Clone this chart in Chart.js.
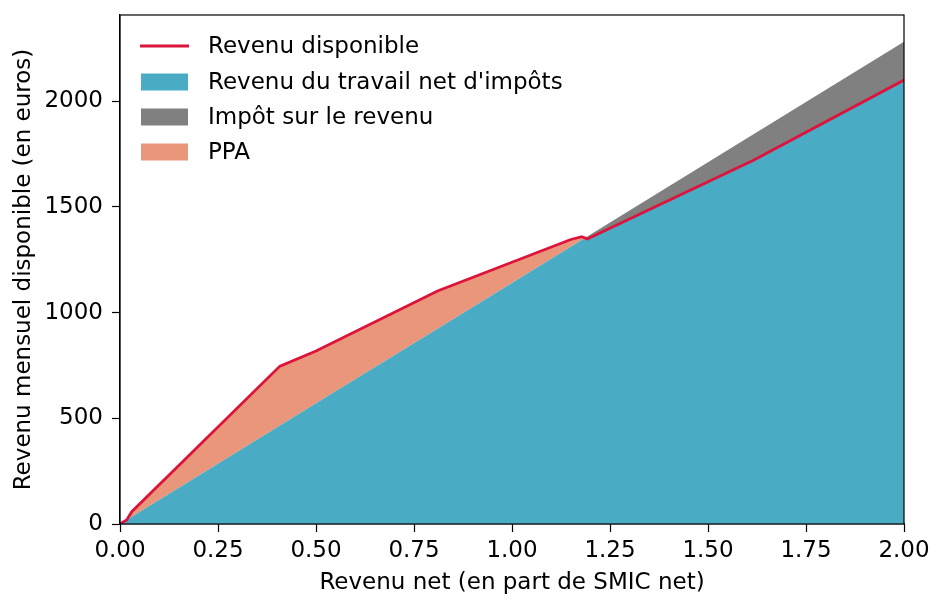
<!DOCTYPE html>
<html>
<head>
<meta charset="utf-8">
<script src="https://cdn.jsdelivr.net/npm/chart.js@4/dist/chart.umd.min.js"></script>
<style>
  html, body { margin: 0; padding: 0; background: #ffffff; }
  #wrap { width: 932px; height: 594px; }
</style>
</head>
<body>
<div id="wrap"><canvas id="c" width="932" height="594"></canvas></div>
<script>
// Revenu net en part de SMIC net (x)
const smicShare = [0, 0.017, 0.03, 0.408, 0.5, 0.81, 1.15, 1.178, 1.192, 1.616, 2.0];
// Revenu disponible (euros / mois)
const revenuDisponible = [0, 19, 58, 747, 818, 1102, 1346, 1359, 1348, 1721, 2100];
// Revenu du travail net d'impôts
const revenuTravailNet = [0, 19, 34, 466, 571, 924, 1312, 1344, 1348, 1721, 2100];
// Impôt sur le revenu
const impotRevenu = [0, 0, 0, 0, 0, 0, 0, 0, 12, 123, 182];
// PPA
const ppa = [0, 0, 24, 281, 247, 178, 34, 15, 0, 0, 0];

const xTicks = [0, 0.25, 0.5, 0.75, 1.0, 1.25, 1.5, 1.75, 2.0];
const yTicks = [0, 500, 1000, 1500, 2000];

const labels = ["Revenu disponible", "Revenu du travail net d'impôts", "Impôt sur le revenu", "PPA"];
const colors = { red: '#dc143c', blue: '#4aabc5', gray: '#808080', salmon: '#e9967a' };

const pts = arr => smicShare.map((x, i) => ({ x: x, y: arr[i] }));
const FONT = "'DejaVu Sans', sans-serif";
const FS = 23;

const framePlugin = {
  id: 'frame',
  afterDraw(chart) {
    const { ctx, chartArea: a } = chart;
    ctx.save();
    ctx.strokeStyle = '#000';
    ctx.lineWidth = 1.2;
    ctx.strokeRect(a.left, a.top, a.right - a.left, a.bottom - a.top);
    // legend inside plot
    const rows = [46, 82, 117, 152];
    const ds = chart.data.datasets;
    ctx.font = FS + 'px ' + FONT;
    ctx.textBaseline = 'middle';
    ctx.textAlign = 'left';
    ds.forEach((d, i) => {
      const y = rows[i];
      if (i === 0) {
        ctx.strokeStyle = d.borderColor;
        ctx.lineWidth = 2.8;
        ctx.beginPath();
        ctx.moveTo(140, y);
        ctx.lineTo(189, y);
        ctx.stroke();
      } else {
        ctx.fillStyle = d.backgroundColor;
        ctx.fillRect(141, y - 8.5, 47, 17);
      }
      ctx.fillStyle = '#000';
      ctx.fillText(d.label, 208, y + 1);
    });
    ctx.restore();
  }
};

new Chart(document.getElementById('c'), {
  type: 'line',
  data: {
    datasets: [
      { label: labels[0], data: pts(revenuDisponible), stack: 'line', borderColor: colors.red, borderWidth: 2.8,
        pointRadius: 0, fill: false, tension: 0, backgroundColor: colors.red },
      { label: labels[1], data: pts(revenuTravailNet), stack: 'area', borderWidth: 0, borderColor: colors.blue,
        backgroundColor: colors.blue, pointRadius: 0, fill: 'origin', tension: 0 },
      { label: labels[2], data: pts(impotRevenu), stack: 'area', borderWidth: 0, borderColor: colors.gray,
        backgroundColor: colors.gray, pointRadius: 0, fill: '-1', tension: 0 },
      { label: labels[3], data: pts(ppa), stack: 'area', borderWidth: 0, borderColor: colors.salmon,
        backgroundColor: colors.salmon, pointRadius: 0, fill: '-1', tension: 0 }
    ]
  },
  options: {
    responsive: false,
    animation: false,
    events: [],
    layout: { padding: { left: 0, top: 15, right: 28, bottom: 0 } },
    plugins: { legend: { display: false }, tooltip: { enabled: false } },
    scales: {
      x: {
        type: 'linear', min: 0, max: 2,
        afterBuildTicks: s => { s.ticks = xTicks.map(v => ({ value: v })); },
        afterFit: s => { s.height = 70; s.paddingLeft = 0; s.paddingRight = 0; },
        ticks: { color: '#000', font: { family: FONT, size: FS }, padding: 5, maxRotation: 0,
                 callback: v => Number(v).toFixed(2) },
        grid: { display: true, drawOnChartArea: false, drawTicks: true, tickLength: 8, color: '#000', tickWidth: 1.2 },
        border: { display: true, color: '#000', width: 1.2 },
        title: { display: true, text: 'Revenu net (en part de SMIC net)', color: '#000',
                 font: { family: FONT, size: FS, lineHeight: 1.2 }, padding: { top: 0, bottom: -3 } }
      },
      y: {
        type: 'linear', min: 0, max: 2408, stacked: true,
        afterBuildTicks: s => { s.ticks = yTicks.map(v => ({ value: v })); },
        afterFit: s => { s.width = 120; s.paddingTop = 0; s.paddingBottom = 0; },
        ticks: { color: '#000', font: { family: FONT, size: FS }, padding: 9, callback: v => String(v) },
        grid: { display: true, drawOnChartArea: false, drawTicks: true, tickLength: 8, color: '#000', tickWidth: 1.2 },
        border: { display: true, color: '#000', width: 1.2 },
        title: { display: true, text: 'Revenu mensuel disponible (en euros)', color: '#000',
                 font: { family: FONT, size: FS, lineHeight: 1.2 }, padding: { top: 10, bottom: 0 } }
      }
    }
  },
  plugins: [framePlugin]
});
</script>
</body>
</html>
